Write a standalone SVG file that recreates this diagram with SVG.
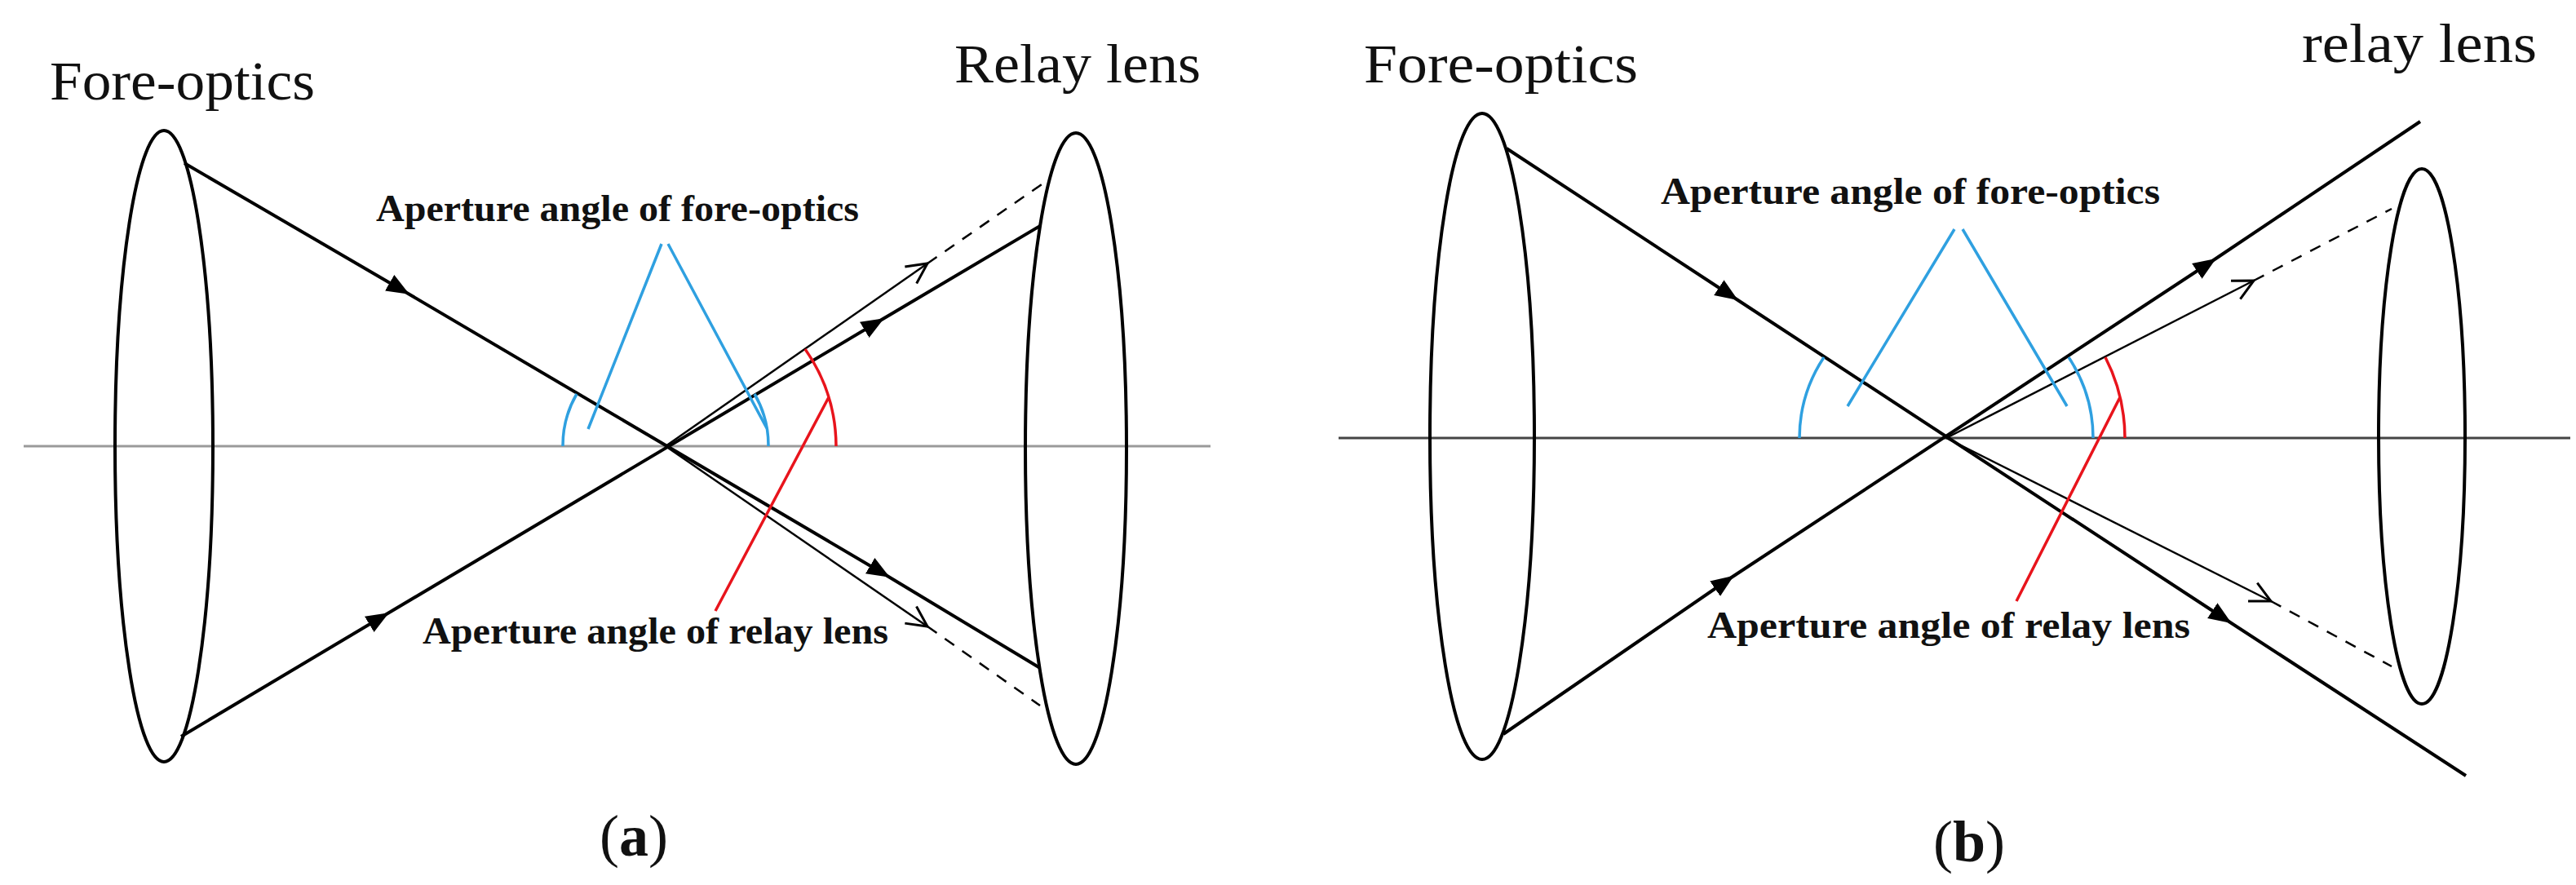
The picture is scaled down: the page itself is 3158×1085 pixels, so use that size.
<svg xmlns="http://www.w3.org/2000/svg" width="3158" height="1085" viewBox="0 0 3158 1085">
<style>
.lens{fill:none;stroke:#000;stroke-width:4}
.ray{fill:none;stroke:#000;stroke-width:4}
.thin{fill:none;stroke:#000;stroke-width:2.5}
.dash{fill:none;stroke:#000;stroke-width:2.5;stroke-dasharray:14 12}
.blue{fill:none;stroke:#2fa0e0;stroke-width:3.5}
.red{fill:none;stroke:#e8141c;stroke-width:3.5}
.t{font-family:"Liberation Serif",serif;fill:#111}
.lab{font-family:"Liberation Serif",serif;font-weight:bold;font-size:46px;fill:#111}
</style>
<defs>
<marker id="fa" viewBox="0 0 10 10" refX="8" refY="5" markerWidth="7" markerHeight="7" markerUnits="strokeWidth" orient="auto"><path d="M0,1 L10,5 L0,9 Z" fill="#000"/></marker>
<marker id="oa" viewBox="0 0 12 12" refX="11" refY="6" markerWidth="12" markerHeight="12" markerUnits="strokeWidth" orient="auto"><path d="M1,1 L11,6 L1,11" fill="none" stroke="#000" stroke-width="1.2"/></marker>
</defs>
<g id="panel-a">
<line x1="29" y1="547" x2="1484" y2="547" stroke="#9a9a9a" stroke-width="3"/>
<g id="a-fore"><ellipse class="lens" cx="201" cy="547" rx="60" ry="387"/><text class="t" x="61" y="122" font-size="68" textLength="325" lengthAdjust="spacingAndGlyphs">Fore-optics</text></g>
<g id="a-relay"><ellipse class="lens" cx="1319" cy="550" rx="62" ry="387"/><text class="t" x="1170" y="101" font-size="68" textLength="302" lengthAdjust="spacingAndGlyphs">Relay lens</text></g>
<g id="a-connectors">
<path class="ray" d="M226,200 L497,358" marker-end="url(#fa)"/><path class="ray" d="M497,358 L1086,705" marker-end="url(#fa)"/><path class="ray" d="M1086,705 L1275,819"/>
<path class="ray" d="M222,903 L472,754" marker-end="url(#fa)"/><path class="ray" d="M472,754 L1079,393" marker-end="url(#fa)"/><path class="ray" d="M1079,393 L1275,277"/>
<path class="thin" d="M816,547 L1137,323" marker-end="url(#oa)"/><path class="dash" d="M1137,323 L1280,224"/>
<path class="thin" d="M816,547 L1137,768" marker-end="url(#oa)"/><path class="dash" d="M1137,768 L1275,865"/>
<path class="blue" d="M811,299 L721,526 M819,299 L940,525"/>
<path class="blue" d="M707,483 A126,126 0 0 0 690,547 M925,483 A126,126 0 0 1 942,547"/>
<path class="red" d="M987,428 A209,209 0 0 1 1025,547 M1016,487 L877,749"/>
</g>
<text class="lab" x="461" y="271" textLength="592" lengthAdjust="spacingAndGlyphs">Aperture angle of fore-optics</text>
<text class="lab" x="518" y="789" textLength="571" lengthAdjust="spacingAndGlyphs">Aperture angle of relay lens</text>
<text class="t" x="777" y="1049" font-size="72" text-anchor="middle">(<tspan font-weight="bold">a</tspan>)</text>
</g>
<g id="panel-b">
<line x1="1641" y1="537" x2="3151" y2="537" stroke="#444" stroke-width="3"/>
<g id="b-fore"><ellipse class="lens" cx="1817" cy="535" rx="64" ry="396"/><text class="t" x="1672" y="101" font-size="68" textLength="336" lengthAdjust="spacingAndGlyphs">Fore-optics</text></g>
<g id="b-relay"><ellipse class="lens" cx="2969" cy="535" rx="53" ry="328"/><text class="t" x="2822" y="76" font-size="68" textLength="288" lengthAdjust="spacingAndGlyphs">relay lens</text></g>
<g id="b-connectors">
<path class="ray" d="M1847,182 L2126,365" marker-end="url(#fa)"/><path class="ray" d="M2126,365 L2731,761" marker-end="url(#fa)"/><path class="ray" d="M2731,761 L3023,951"/>
<path class="ray" d="M1843,900 L2121,709" marker-end="url(#fa)"/><path class="ray" d="M2121,709 L2712,320" marker-end="url(#fa)"/><path class="ray" d="M2712,320 L2967,149"/>
<path class="thin" d="M2386,537 L2763,344" marker-end="url(#oa)"/><path class="dash" d="M2763,344 L2932,256"/>
<path class="thin" d="M2386,537 L2784,737" marker-end="url(#oa)"/><path class="dash" d="M2784,737 L2932,817"/>
<path class="blue" d="M2396,281 L2265,498 M2406,281 L2534,498"/>
<path class="blue" d="M2236,438 A180,180 0 0 0 2206,537 M2536,438 A180,180 0 0 1 2566,537"/>
<path class="red" d="M2581,438 A219,219 0 0 1 2605,537 M2599,487 L2472,737"/>
</g>
<text class="lab" x="2036" y="250" textLength="612" lengthAdjust="spacingAndGlyphs">Aperture angle of fore-optics</text>
<text class="lab" x="2093" y="782" textLength="592" lengthAdjust="spacingAndGlyphs">Aperture angle of relay lens</text>
<text class="t" x="2414" y="1056" font-size="72" text-anchor="middle">(<tspan font-weight="bold">b</tspan>)</text>
</g>
</svg>
